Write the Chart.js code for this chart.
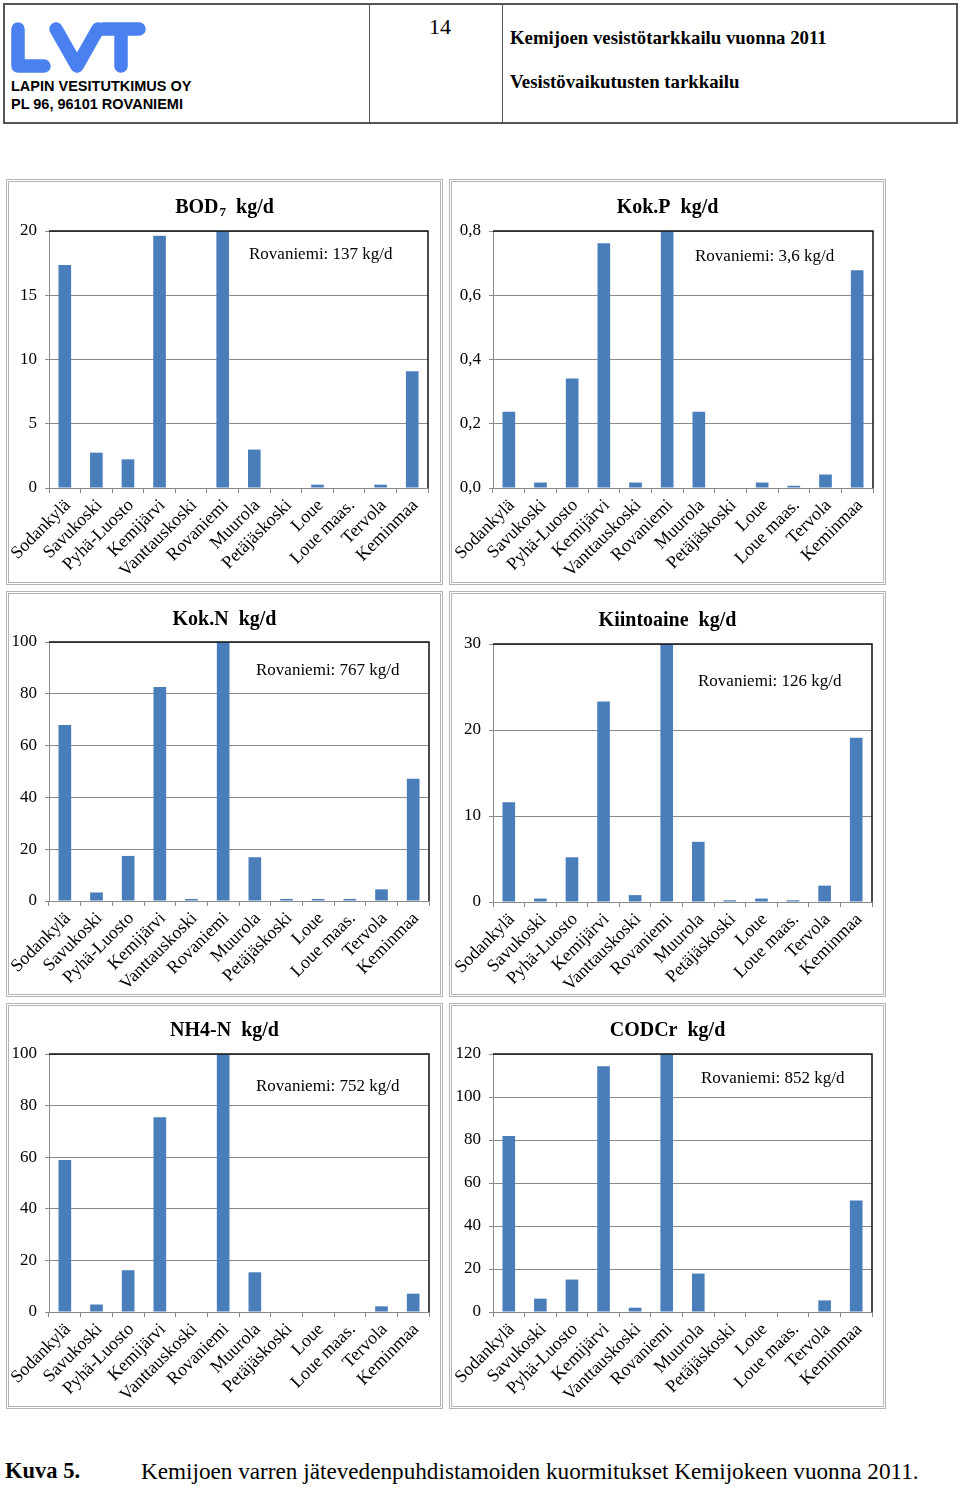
<!DOCTYPE html>
<html>
<head>
<meta charset="utf-8">
<script src="https://cdn.jsdelivr.net/npm/chart.js@4.4.0/dist/chart.umd.min.js"></script>
<style>
  body { margin: 0; width: 960px; height: 1488px; background: #fff; position: relative; overflow: hidden; font-family: "Liberation Serif", "Times New Roman", serif; }
  .hdr { position: absolute; left: 3px; top: 3px; width: 955px; height: 121px; border: 2px solid #555; box-sizing: border-box; }
  .vline { position: absolute; top: 3px; width: 1px; height: 121px; background: #555; }
  .abs { position: absolute; white-space: nowrap; }
  .lvt-text { font-family: "Liberation Sans", Arial, sans-serif; font-weight: bold; font-size: 14.5px; color: #000; }
  .panel { position: absolute; border: 3px double #b4b4b4; box-sizing: border-box; }
  .panel canvas { position: absolute; left: 0; top: 0; }
</style>
</head>
<body>

<!-- page header -->
<div class="hdr"></div>
<div class="vline" style="left:369px"></div>
<div class="vline" style="left:502px"></div>
<svg class="abs" style="left:0;top:0" width="160" height="80">
  <g stroke="#4a80ef" stroke-width="13.5" stroke-linecap="round" stroke-linejoin="round" fill="none">
    <path d="M18 29 L18 66 L44 66"/>
    <path d="M56 29 L77 66 L98 29"/>
    <path d="M103 29 L139 29 M121 29 L121 66"/>
  </g>
</svg>
<div class="abs lvt-text" style="left:11px;top:78px">LAPIN VESITUTKIMUS OY</div>
<div class="abs lvt-text" style="left:11px;top:96px">PL 96, 96101 ROVANIEMI</div>
<div class="abs" style="left:374px;width:132px;top:14px;text-align:center;font-size:22px">14</div>
<div class="abs" style="left:510px;top:27px;font-size:18.8px;font-weight:bold">Kemijoen vesistötarkkailu vuonna 2011</div>
<div class="abs" style="left:510px;top:71px;font-size:18.8px;font-weight:bold">Vesistövaikutusten tarkkailu</div>

<!-- chart panels -->
<div class="panel" id="p0"><canvas id="c0"></canvas></div>
<div class="panel" id="p1"><canvas id="c1"></canvas></div>
<div class="panel" id="p2"><canvas id="c2"></canvas></div>
<div class="panel" id="p3"><canvas id="c3"></canvas></div>
<div class="panel" id="p4"><canvas id="c4"></canvas></div>
<div class="panel" id="p5"><canvas id="c5"></canvas></div>

<!-- caption -->
<div class="abs" style="left:5px;top:1458px;font-size:22.5px;font-weight:bold">Kuva 5.</div>
<div class="abs" style="left:141px;top:1458px;font-size:23.2px">Kemijoen varren jätevedenpuhdistamoiden kuormitukset Kemijokeen vuonna 2011.</div>

<script>
// data
const categories = ['Sodankylä', 'Savukoski', 'Pyhä-Luosto', 'Kemijärvi', 'Vanttauskoski', 'Rovaniemi',
  'Muurola', 'Petäjäskoski', 'Loue', 'Loue maas.', 'Tervola', 'Keminmaa'];

const bod7       = [17.35, 2.75, 2.23, 19.64, 0, 137, 2.99, 0, 0.26, 0, 0.26, 9.09];
const kokP       = [0.237, 0.017, 0.341, 0.762, 0.017, 3.6, 0.237, 0, 0.017, 0.007, 0.042, 0.678];
const kokN       = [68.0, 3.3, 17.4, 82.6, 0.8, 767, 16.9, 0.8, 0.8, 0.8, 4.5, 47.2];
const kiintoaine = [11.6, 0.4, 5.2, 23.3, 0.8, 126, 7.0, 0.2, 0.4, 0.2, 1.9, 19.1];
const nh4N       = [58.9, 2.9, 16.2, 75.5, 0, 752, 15.4, 0, 0, 0, 2.2, 7.1];
const codCr      = [81.9, 6.2, 15.1, 114.3, 2.0, 852, 17.9, 0, 0, 0, 5.4, 51.9];

const seriesList = [bod7, kokP, kokN, kiintoaine, nh4N, codCr];
const titleMain  = ['BOD', 'Kok.P', 'Kok.N', 'Kiintoaine', 'NH4-N', 'CODCr'];
const titleSub   = ['7', '', '', '', '', ''];
const titleUnit  = 'kg/d';
const yMax       = [20, 0.8, 100, 30, 100, 120];
const yStep      = [5, 0.2, 20, 10, 20, 20];
const yDecimals  = [0, 1, 0, 0, 0, 0];
const noteIndex  = categories.indexOf('Rovaniemi');

// panel boxes and plot area targets (page px)
const panels = [
  { x: 6,   y: 179,  w: 437, h: 406, area: { l: 49,  t: 231,  r: 428, b: 488 },  titleY: 208,  note: [200, 24] },
  { x: 449, y: 179,  w: 437, h: 406, area: { l: 493, t: 231,  r: 873, b: 488 },  titleY: 208,  note: [202, 26] },
  { x: 6,   y: 591,  w: 437, h: 406, area: { l: 49,  t: 642,  r: 429, b: 901 },  titleY: 620,  note: [207, 29] },
  { x: 449, y: 591,  w: 437, h: 406, area: { l: 493, t: 644,  r: 872, b: 902 },  titleY: 621,  note: [205, 38] },
  { x: 6,   y: 1003, w: 437, h: 406, area: { l: 49,  t: 1054, r: 429, b: 1312 }, titleY: 1031, note: [207, 33] },
  { x: 449, y: 1003, w: 437, h: 406, area: { l: 493, t: 1054, r: 872, b: 1312 }, titleY: 1031, note: [208, 25] }
];

const SERIF = '"Liberation Serif", "Times New Roman", serif';
const BAR = '#4a7ebb';
const GRID = '#8a8a8a';

Chart.defaults.font.family = SERIF;
Chart.defaults.color = '#000';

const fmt = (v, d) => v.toFixed(d).replace('.', ',');

// title with optional subscript, drawn centered over the canvas
const panelTitle = {
  id: 'panelTitle',
  afterDraw(chart, args, o) {
    const ctx = chart.ctx;
    ctx.save();
    ctx.fillStyle = '#000';
    ctx.textBaseline = 'middle';
    const big = 'bold 20px ' + SERIF, small = 'bold 13px ' + SERIF;
    ctx.font = big;
    const w1 = ctx.measureText(o.main).width;
    const w3 = ctx.measureText('  ' + titleUnit).width;
    ctx.font = small;
    const w2 = o.sub ? ctx.measureText(o.sub).width + 1 : 0;
    let x = chart.width / 2 - (w1 + w2 + w3) / 2;
    ctx.font = big;
    ctx.fillText(o.main, x, o.y);
    x += w1;
    if (o.sub) {
      ctx.font = small;
      ctx.fillText(o.sub, x + 1, o.y + 5);
      x += w2;
    }
    ctx.font = big;
    ctx.fillText('  ' + titleUnit, x, o.y);
    ctx.restore();
  }
};

// "Rovaniemi: xxx kg/d" note, Rovaniemi is off the scale
const offScaleNote = {
  id: 'offScaleNote',
  afterDraw(chart, args, o) {
    const ctx = chart.ctx, a = chart.chartArea;
    ctx.save();
    ctx.font = '17px ' + SERIF;
    ctx.fillStyle = '#000';
    ctx.textBaseline = 'middle';
    ctx.fillText(o.text, a.left + o.dx, a.top + o.dy);
    ctx.restore();
  }
};

// dark top/right frame of the plot area
const plotFrame = {
  id: 'plotFrame',
  afterDatasetsDraw(chart) {
    const ctx = chart.ctx, a = chart.chartArea;
    ctx.save();
    ctx.strokeStyle = '#111';
    ctx.lineWidth = 1.5;
    ctx.beginPath();
    ctx.moveTo(a.left, a.top);
    ctx.lineTo(a.right, a.top);
    ctx.lineTo(a.right, a.bottom);
    ctx.stroke();
    ctx.restore();
  }
};

panels.forEach((p, i) => {
  const box = document.getElementById('p' + i);
  box.style.left = p.x + 'px';
  box.style.top = p.y + 'px';
  box.style.width = p.w + 'px';
  box.style.height = p.h + 'px';

  const cx = p.x + 3, cy = p.y + 3, cw = p.w - 6, ch = p.h - 6;
  const canvas = document.getElementById('c' + i);
  canvas.width = cw;
  canvas.height = ch;
  canvas.style.width = cw + 'px';
  canvas.style.height = ch + 'px';

  const yWidth = p.area.l - cx;
  const xHeight = cy + ch - p.area.b;
  const values = seriesList[i];

  new Chart(canvas.getContext('2d'), {
    type: 'bar',
    data: {
      labels: categories,
      datasets: [{
        data: values,
        backgroundColor: BAR,
        borderWidth: 0,
        barPercentage: 0.4,
        categoryPercentage: 1.0,
        clip: 0
      }]
    },
    options: {
      responsive: false,
      animation: false,
      layout: { padding: { top: p.area.t - cy, right: cx + cw - p.area.r, left: 0, bottom: 0 } },
      plugins: {
        legend: { display: false },
        tooltip: { enabled: false },
        title: { display: false },
        panelTitle: { main: titleMain[i], sub: titleSub[i], y: p.titleY - cy },
        offScaleNote: {
          text: 'Rovaniemi: ' + String(values[noteIndex]).replace('.', ',') + ' kg/d',
          dx: p.note[0], dy: p.note[1]
        }
      },
      scales: {
        x: {
          grid: { display: true, drawOnChartArea: false, drawTicks: true, tickLength: 5, color: GRID, offset: true },
          border: { color: GRID, width: 1 },
          ticks: { font: { size: 18 }, color: '#000', minRotation: 45, maxRotation: 45, autoSkip: false, padding: 2, labelOffset: 3 },
          afterFit(s) { s.height = xHeight; s.paddingLeft = 0; s.paddingRight = 0; }
        },
        y: {
          min: 0,
          max: yMax[i],
          grid: { color: GRID, tickLength: 4 },
          border: { color: GRID, width: 1 },
          ticks: {
            stepSize: yStep[i],
            font: { size: 17 },
            color: '#000',
            padding: 8,
            callback: v => fmt(v, yDecimals[i])
          },
          afterFit(s) { s.width = yWidth; s.paddingTop = 0; s.paddingBottom = 0; }
        }
      }
    },
    plugins: [panelTitle, offScaleNote, plotFrame]
  });
});
</script>
</body>
</html>
